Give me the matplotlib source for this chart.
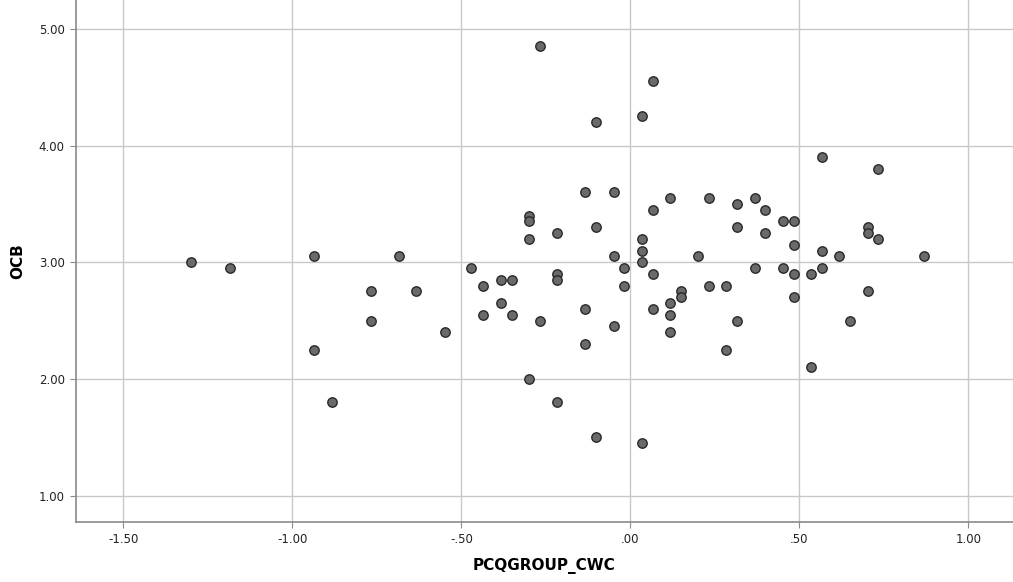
import matplotlib
matplotlib.use("Agg")
import matplotlib.pyplot as plt
from matplotlib.ticker import FuncFormatter

# PCQGROUP_CWC (x) and OCB (y)
pcq = [-1.30, -1.184, -0.935, -0.684, -0.768, -0.633, -0.768, -0.549, -0.935, -0.883,
       -0.47, -0.268, -0.101, 0.066, 0.034, -0.133, -0.049, -0.300, -0.300, -0.216,
       -0.101, -0.300, -0.049, 0.034, 0.034, 0.066, 0.117, 0.233, 0.316, 0.368,
       0.316, 0.201, 0.034, 0.368, -0.435, -0.383, -0.351, -0.216, -0.216, -0.018,
       -0.018, 0.066, -0.383, -0.435, -0.351, -0.268, -0.133, -0.049, -0.133, 0.066,
       0.117, 0.149, 0.149, 0.117, 0.117, 0.233, 0.284, 0.316, 0.284, -0.300,
       -0.216, -0.101, 0.034, 0.567, 0.734, 0.399, 0.452, 0.483, 0.399, 0.702,
       0.702, 0.734, 0.483, 0.567, 0.618, 0.869, 0.452, 0.483, 0.535, 0.567,
       0.483, 0.702, 0.650, 0.535]
ocb = [3.00, 2.95, 3.05, 3.05, 2.75, 2.75, 2.50, 2.40, 2.25, 1.80,
       2.95, 4.85, 4.20, 4.55, 4.25, 3.60, 3.60, 3.40, 3.35, 3.25,
       3.30, 3.20, 3.05, 3.20, 3.10, 3.45, 3.55, 3.55, 3.50, 3.55,
       3.30, 3.05, 3.00, 2.95, 2.80, 2.85, 2.85, 2.90, 2.85, 2.95,
       2.80, 2.90, 2.65, 2.55, 2.55, 2.50, 2.60, 2.45, 2.30, 2.60,
       2.65, 2.75, 2.70, 2.55, 2.40, 2.80, 2.80, 2.50, 2.25, 2.00,
       1.80, 1.50, 1.45, 3.90, 3.80, 3.45, 3.35, 3.35, 3.25, 3.30,
       3.25, 3.20, 3.15, 3.10, 3.05, 3.05, 2.95, 2.90, 2.90, 2.95,
       2.70, 2.75, 2.50, 2.10]

x_ticks = [-1.5, -1.0, -0.5, 0.0, 0.5, 1.0]
y_ticks = [1.0, 2.0, 3.0, 4.0, 5.0]


def spss_fmt(v, pos):
    s = f"{v:.2f}"
    if s.startswith("0."):
        s = s[1:]
    elif s.startswith("-0."):
        s = "-" + s[2:]
    return s


fig = plt.figure(figsize=(10.13, 5.82), dpi=100)
ax = fig.add_axes([0.075, 0.1036, 0.925, 0.8964])

ax.scatter(pcq, ocb, s=46, facecolor="#6a6a6a", edgecolor="#2a2a2a",
           linewidth=1.0, zorder=3)

ax.set_xlim(-1.64, 1.132)
ax.set_ylim(0.777, 5.248)
ax.set_xticks(x_ticks)
ax.set_yticks(y_ticks)
ax.xaxis.set_major_formatter(FuncFormatter(spss_fmt))
ax.yaxis.set_major_formatter(FuncFormatter(spss_fmt))

ax.grid(True, color="#c8c8c8", linewidth=1.0, zorder=0)
ax.set_axisbelow(True)
for side in ["top", "right"]:
    ax.spines[side].set_visible(False)
for side in ["left", "bottom"]:
    ax.spines[side].set_color("#8a8a8a")
    ax.spines[side].set_linewidth(1.2)

ax.tick_params(axis="both", length=4, color="#8a8a8a", labelsize=8.5,
               labelcolor="#222222", pad=4)

ax.set_xlabel("PCQGROUP_CWC", fontsize=11, fontweight="bold", labelpad=9)
ax.set_ylabel("OCB", fontsize=11, fontweight="bold", labelpad=10)

fig.savefig("out.png", dpi=100)
